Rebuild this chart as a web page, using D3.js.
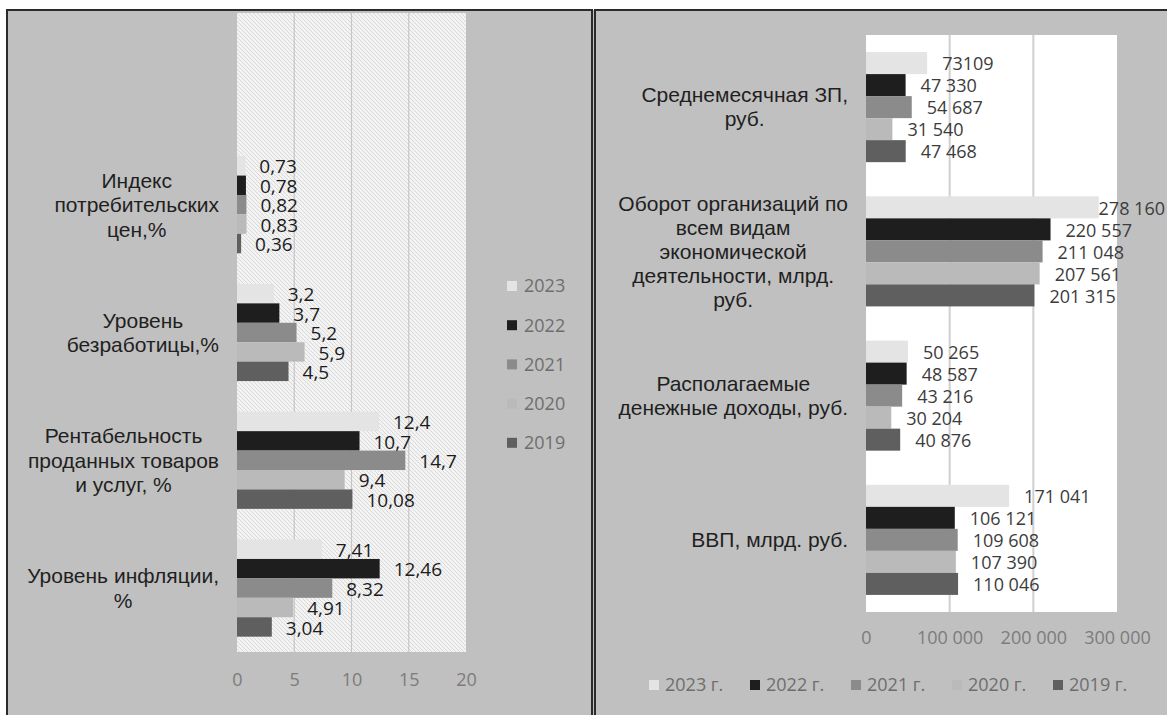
<!DOCTYPE html>
<html>
<head>
<meta charset="utf-8">
<script src="https://cdn.jsdelivr.net/npm/d3@7"></script>
<style>
  html, body { margin: 0; padding: 0; background: #ffffff; }
  svg { display: block; }
</style>
</head>
<body>
<svg id="chart" width="1167" height="715"></svg>
<script>
// ---------- DATA ----------
const years = ["2023", "2022", "2021", "2020", "2019"];
const rightLegendLabels = ["2023 г.", "2022 г.", "2021 г.", "2020 г.", "2019 г."];

const leftCategories = [
  ["Индекс", "потребительских", "цен,%"],
  ["Уровень", "безработицы,%"],
  ["Рентабельность", "проданных товаров", "и услуг, %"],
  ["Уровень инфляции,", "%"]
];
const left2023 = [0.73, 3.2, 12.4, 7.41];
const left2022 = [0.78, 3.7, 10.7, 12.46];
const left2021 = [0.82, 5.2, 14.7, 8.32];
const left2020 = [0.83, 5.9, 9.4, 4.91];
const left2019 = [0.36, 4.5, 10.08, 3.04];
const leftTicks = [0, 5, 10, 15, 20];

const rightCategories = [
  ["Среднемесячная ЗП,", "руб."],
  ["Оборот организаций по", "всем видам", "экономической", "деятельности, млрд.", "руб."],
  ["Располагаемые", "денежные доходы, руб."],
  ["ВВП, млрд. руб."]
];
const right2023 = [73109, 278160, 50265, 171041];
const right2022 = [47330, 220557, 48587, 106121];
const right2021 = [54687, 211048, 43216, 109608];
const right2020 = [31540, 207561, 30204, 107390];
const right2019 = [47468, 201315, 40876, 110046];
const rightTicks = [0, 100000, 200000, 300000];
// labels printed without thousands separator in the source: [seriesIndex, categoryIndex]
const rightPlainLabels = [[0, 0]];

// ---------- STYLE ----------
const seriesColors = ["#e4e4e4", "#1e1e1e", "#8b8b8b", "#bababa", "#5f5f5f"];
const panelBg = "#c0c0c0";

const leftSeries = [left2023, left2022, left2021, left2020, left2019];
const rightSeries = [right2023, right2022, right2021, right2020, right2019];

const ru = d3.formatLocale({decimal: ",", thousands: " ", grouping: [3], currency: ["", ""]});
const fmtGroup = ru.format(",d");
const fmtDec = v => String(v).replace(".", ",");

const svg = d3.select("#chart");

// hatch pattern for left plot area
const defs = svg.append("defs");
const pat = defs.append("pattern").attr("id", "hatch").attr("patternUnits", "userSpaceOnUse")
  .attr("width", 4).attr("height", 4);
pat.append("rect").attr("width", 4).attr("height", 4).attr("fill", "#f3f3f3");
pat.append("path").attr("d", "M-1,-1 L5,5 M3,-1 L5,1 M-1,3 L1,5").attr("stroke", "#d6d6d6").attr("stroke-width", 0.9);

// panels
svg.append("rect").attr("x", 0).attr("y", 0).attr("width", 1167).attr("height", 715).attr("fill", "#ffffff");
svg.append("rect").attr("x", 7).attr("y", 10).attr("width", 1170).attr("height", 720).attr("fill", panelBg);
svg.append("rect").attr("x", 7).attr("y", 10).attr("width", 585).attr("height", 720)
  .attr("fill", "none").attr("stroke", "#2b2b2b").attr("stroke-width", 2);
svg.append("rect").attr("x", 595).attr("y", 10).attr("width", 600).attr("height", 720)
  .attr("fill", "none").attr("stroke", "#2b2b2b").attr("stroke-width", 2);

function drawChart(cfg) {
  const g = svg.append("g");
  const catKeys = cfg.categories.map(c => c.join(" "));
  const domain = cfg.blankTop ? ["__blank__", ...catKeys] : catKeys;
  const y = d3.scaleBand().domain(domain).range([cfg.y0, cfg.y1])
    .paddingInner(cfg.pad).paddingOuter(cfg.pad / 2);
  const x = d3.scaleLinear().domain(cfg.xDomain).range([cfg.x0, cfg.x1]);
  const ys = d3.scaleBand().domain(years).range([0, y.bandwidth()]);

  // plot area
  g.append("rect").attr("x", cfg.x0).attr("y", cfg.y0)
    .attr("width", cfg.x1 - cfg.x0).attr("height", cfg.y1 - cfg.y0).attr("fill", cfg.plotFill);

  // gridlines
  g.selectAll(".grid").data(cfg.ticks.slice(1, -1)).join("line")
    .attr("x1", d => x(d)).attr("x2", d => x(d))
    .attr("y1", cfg.y0).attr("y2", cfg.y1)
    .attr("stroke", cfg.gridColor).attr("stroke-width", cfg.gridWidth);

  // bars
  const barData = [];
  cfg.series.forEach((vals, si) => {
    vals.forEach((v, ci) => barData.push({si, ci, v, cat: catKeys[ci]}));
  });
  g.selectAll(".bar").data(barData).join("rect")
    .attr("x", x(0))
    .attr("y", d => y(d.cat) + ys(years[d.si]))
    .attr("width", d => x(d.v) - x(0))
    .attr("height", ys.bandwidth())
    .attr("fill", d => seriesColors[d.si]);

  // data labels
  const lab = g.selectAll(".lab").data(barData).join("text")
    .attr("y", d => y(d.cat) + ys(years[d.si]) + ys.bandwidth() / 2 + cfg.labelDy)
    .attr("dy", "0.35em")
    .attr("font-family", "'Open Sans', sans-serif")
    .attr("font-size", cfg.labelSize)
    .attr("fill", cfg.labelColor)
    .text(d => cfg.fmt(d));
  lab.each(function(d) {
    const w = this.getComputedTextLength();
    let xx = x(d.v) + cfg.labelOffset;
    if (cfg.labelMaxRight && xx + w > cfg.labelMaxRight) xx = cfg.labelMaxRight - w;
    d3.select(this).attr("x", xx);
  });

  // category labels
  cfg.categories.forEach((lines, ci) => {
    const cy = y(catKeys[ci]) + y.bandwidth() / 2;
    const tg = g.append("g");
    const ts = tg.selectAll("text").data(lines).join("text")
      .attr("y", (d, i) => cy + (i - (lines.length - 1) / 2) * cfg.catLineH)
      .attr("dy", "0.35em")
      .attr("text-anchor", "middle")
      .attr("font-family", "'Liberation Sans', Arial, sans-serif")
      .attr("font-size", cfg.catSize)
      .attr("fill", "#1f1f1f")
      .text(d => d);
    let maxW = 0;
    ts.each(function() { maxW = Math.max(maxW, this.getComputedTextLength()); });
    ts.attr("x", cfg.catRight - maxW / 2);
  });

  // x axis
  const axis = d3.axisBottom(x).tickValues(cfg.ticks).tickSize(0).tickPadding(0)
    .tickFormat(cfg.tickFmt);
  const ax = g.append("g").attr("transform", `translate(0,${cfg.tickY})`).call(axis);
  ax.select(".domain").remove();
  ax.selectAll("text")
    .attr("dy", "0.35em").attr("y", 0)
    .attr("font-family", "'Open Sans', sans-serif")
    .attr("font-size", cfg.tickSize)
    .attr("fill", "#7c7c7c");
  return {x, y};
}

drawChart({
  categories: leftCategories, series: leftSeries, blankTop: true,
  x0: 237, x1: 466, y0: 13, y1: 652, pad: 0.24, xDomain: [0, 20], ticks: leftTicks,
  plotFill: "url(#hatch)", gridColor: "#c6c6c6", gridWidth: 1.2,
  fmt: d => fmtDec(d.v), labelSize: 19, labelColor: "#1c1c1c", labelOffset: 14, labelDy: 1,
  catRight: 219, catSize: 21, catLineH: 24.5,
  tickFmt: d => String(d), tickY: 680, tickSize: 18
});

drawChart({
  categories: rightCategories, series: rightSeries, blankTop: false,
  x0: 866, x1: 1117, y0: 35, y1: 612, pad: 0.237, xDomain: [0, 300000], ticks: rightTicks,
  plotFill: "#ffffff", gridColor: "#cfcfcf", gridWidth: 2,
  fmt: d => rightPlainLabels.some(p => p[0] === d.si && p[1] === d.ci) ? String(d.v) : fmtGroup(d.v),
  labelSize: 18, labelColor: "#3c3c3c", labelOffset: 15, labelDy: 1, labelMaxRight: 1165,
  catRight: 848, catSize: 21, catLineH: 24,
  tickFmt: d => fmtGroup(d), tickY: 638, tickSize: 18
});

// left legend (vertical)
const legL = svg.append("g");
years.forEach((yr, i) => {
  const cy = 286 + i * 39.2;
  legL.append("rect").attr("x", 507).attr("y", cy - 5).attr("width", 10).attr("height", 10)
    .attr("fill", seriesColors[i]);
  legL.append("text").attr("x", 524).attr("y", cy).attr("dy", "0.35em")
    .attr("font-family", "'Open Sans', sans-serif").attr("font-size", 18)
    .attr("fill", "#6e6e6e").text(yr);
});

// right legend (horizontal)
const legR = svg.append("g");
rightLegendLabels.forEach((t, i) => {
  const sx = 649 + i * 101;
  legR.append("rect").attr("x", sx).attr("y", 680).attr("width", 10).attr("height", 10)
    .attr("fill", seriesColors[i]);
  legR.append("text").attr("x", sx + 16).attr("y", 685).attr("dy", "0.35em")
    .attr("font-family", "'Open Sans', sans-serif").attr("font-size", 18)
    .attr("fill", "#6e6e6e").text(t);
});
</script>
</body>
</html>
